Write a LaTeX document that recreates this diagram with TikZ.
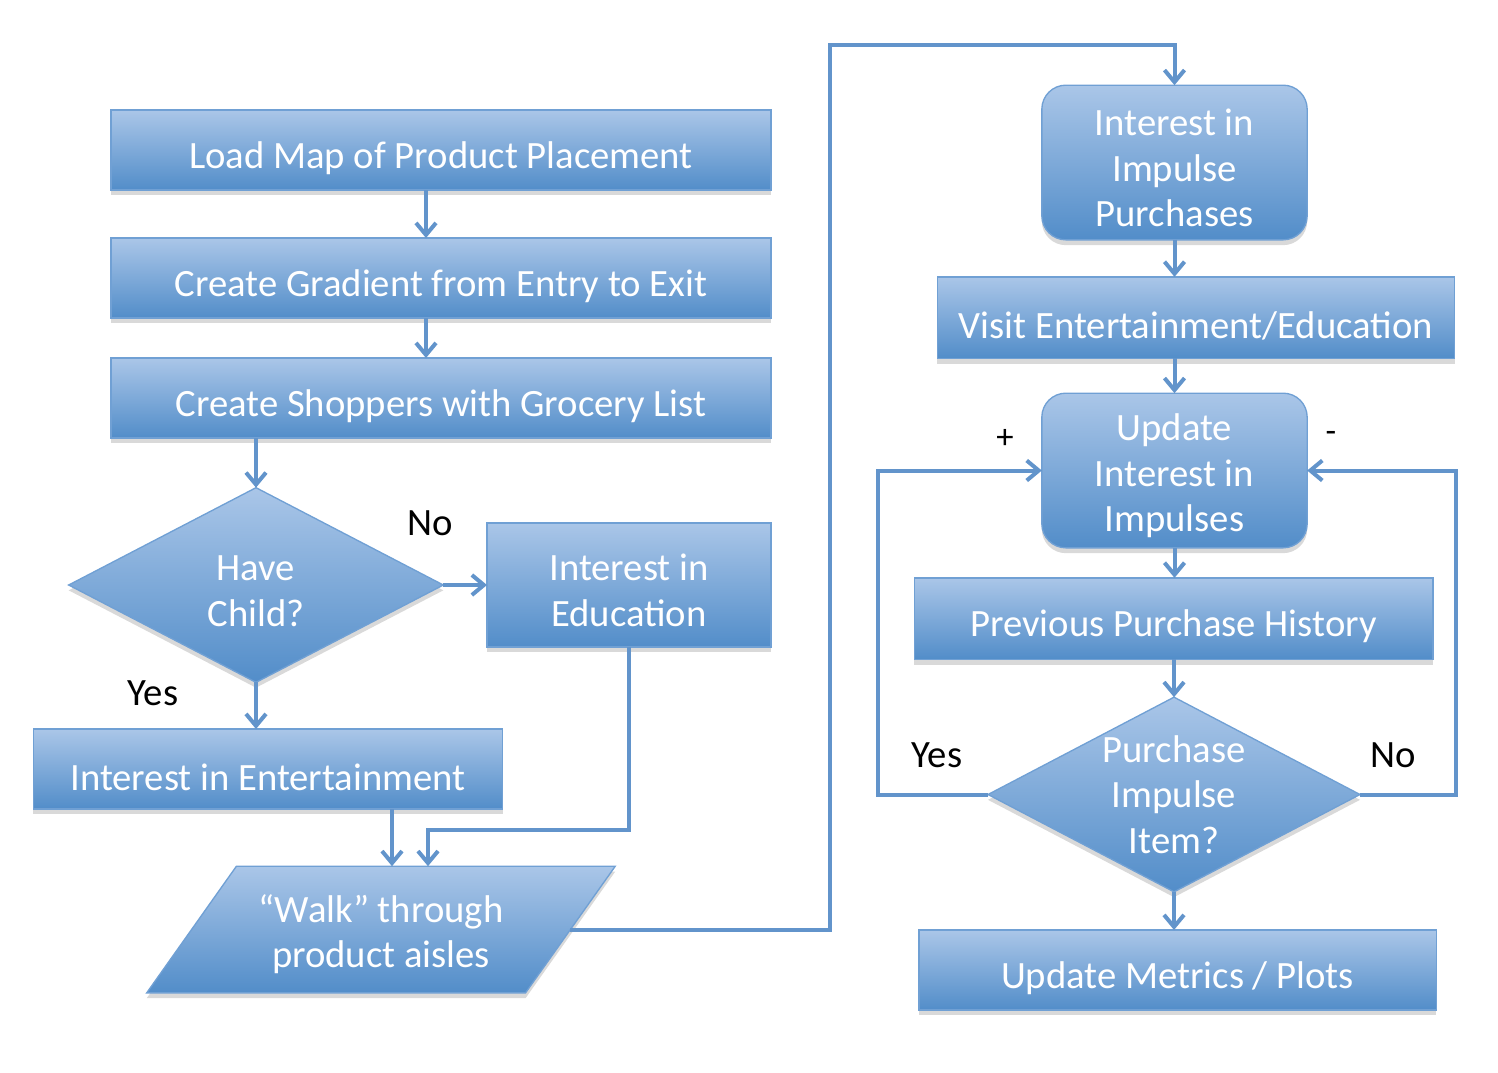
\documentclass[tikz,border=0pt]{standalone}
\usepackage{fontspec}
\setmainfont{Carlito}
\usetikzlibrary{shapes.geometric,arrows.meta,shadows}
\definecolor{flowtop}{RGB}{170,198,232}
\definecolor{flowbot}{RGB}{82,141,201}
\definecolor{flowline}{RGB}{98,148,203}
\definecolor{flowedge}{RGB}{112,160,212}
\newcommand{\flowstrut}{\rule{0pt}{28pt}}

\begin{document}
\begin{tikzpicture}[x=0.75pt,y=0.75pt,yscale=-1,xscale=1,
  flowtext/.style={text=white, font=\fontsize{29}{34}\selectfont, align=center,
    execute at begin node={\rule{0pt}{32pt}}},
  flowbox/.style={flowtext, draw=flowedge, line width=1pt, top color=flowtop, bottom color=flowbot,
    inner sep=0pt, outer sep=0pt,
    drop shadow={shadow xshift=0pt, shadow yshift=-4pt, opacity=0.3}},
  flowround/.style={flowbox, rounded corners=18pt},
  flowdecide/.style={flowbox, diamond},
  flowio/.style={flowbox, trapezium, trapezium stretches=true,
    trapezium left angle=49.5, trapezium right angle=130.5},
  flowarrow/.style={draw=flowline, line width=3pt, -{Straight Barb[length=9pt,width=15pt]}},
  flowlabel/.style={font=\fontsize{29}{34}\selectfont, text=black}]
\useasboundingbox (0,0) rectangle (1498,1072);

%Flowchart: Process
\draw (441,150) node [flowbox, minimum width=495pt, minimum height=60pt] (load) {Load Map of Product Placement};
%Flowchart: Process
\draw (441,278) node [flowbox, minimum width=495pt, minimum height=60pt] (grad) {Create Gradient from Entry to Exit};
%Flowchart: Process
\draw (441,398) node [flowbox, minimum width=495pt, minimum height=60pt] (shop) {Create Shoppers with Grocery List};
%Flowchart: Decision
\draw (256,585) node [flowdecide, minimum width=281pt, minimum height=146pt] (child) {\flowstrut Have\\Child?};
%Flowchart: Process
\draw (629,585) node [flowbox, minimum width=213pt, minimum height=93pt] (educ) {\flowstrut Interest in\\Education};
%Flowchart: Process
\draw (268,769) node [flowbox, minimum width=352pt, minimum height=60pt] (ent) {Interest in Entertainment};
%Flowchart: Data
\draw (381,929.5) node [flowio, minimum width=352pt, minimum height=95pt] (walk) {\flowstrut “Walk” through\\product aisles};

%Rounded Rect
\draw (1174.5,162.5) node [flowround, minimum width=199pt, minimum height=116pt] (impulse) {\flowstrut Interest in\\Impulse\\Purchases};
%Flowchart: Process
\draw (1196,317.5) node [flowbox, minimum width=388pt, minimum height=61pt] (visit) {Visit Entertainment/Education};
%Rounded Rect
\draw (1174.5,470.5) node [flowround, minimum width=199pt, minimum height=116pt] (update) {\flowstrut Update\\Interest in\\Impulses};
%Flowchart: Process
\draw (1173.5,618.5) node [flowbox, minimum width=389pt, minimum height=61pt] (hist) {Previous Purchase History};
%Flowchart: Decision
\draw (1174,794.5) node [flowdecide, minimum width=279pt, minimum height=146pt,
  label={[flowtext]center:Purchase\\Impulse\\Item?}] (buy) {};
%Flowchart: Process
\draw (1177.5,970) node [flowbox, minimum width=388pt, minimum height=60pt] (metrics) {Update Metrics / Plots};

%Elbow points
\coordinate (educturn) at (629,830);
\coordinate (upturn) at (830,45);
\coordinate (yesturn) at (878,470.5);
\coordinate (noturn) at (1456,470.5);

%Straight Lines
\draw [flowarrow] (load.south -| 426,0) -- (grad.north -| 426,0);
\draw [flowarrow] (grad.south -| 426,0) -- (shop.north -| 426,0);
\draw [flowarrow] (shop.south -| child.north) -- (child.north);
\draw [flowarrow] (child.east) -- (educ.west);
\draw [flowarrow] (child.south) -- (child.south |- ent.north);
\draw [flowarrow] (ent.south -| 392,0) -- (walk.north -| 392,0);
\draw [flowarrow] (educ.south) -- (educturn) -| (walk.north -| 428,0);
\draw [flowarrow] (walk.east) -| (upturn) -| (impulse.north);
\draw [flowarrow] (impulse.south) -- (impulse.south |- visit.north);
\draw [flowarrow] (visit.south -| update.north) -- (update.north);
\draw [flowarrow] (update.south) -- (update.south |- hist.north);
\draw [flowarrow] (hist.south -| buy.north) -- (buy.north);
\draw [flowarrow] (buy.south) -- (buy.south |- metrics.north);
\draw [flowarrow] (buy.west) -| (yesturn) -- (update.west);
\draw [flowarrow] (buy.east) -| (noturn) -- (update.east);

% Text Node
\draw (430,523) node [flowlabel] (nochild) {No};
% Text Node
\draw (153,693) node [flowlabel] (yeschild) {Yes};
% Text Node
\draw (1005,439) node [flowlabel, font=\fontsize{26}{30}\selectfont] (plus) {+};
% Text Node
\draw (1331,437) node [flowlabel, font=\fontsize{26}{30}\selectfont] (minus) {-};
% Text Node
\draw (937,755) node [flowlabel] (yesbuy) {Yes};
% Text Node
\draw (1393,755) node [flowlabel] (nobuy) {No};

\end{tikzpicture}
\end{document}
